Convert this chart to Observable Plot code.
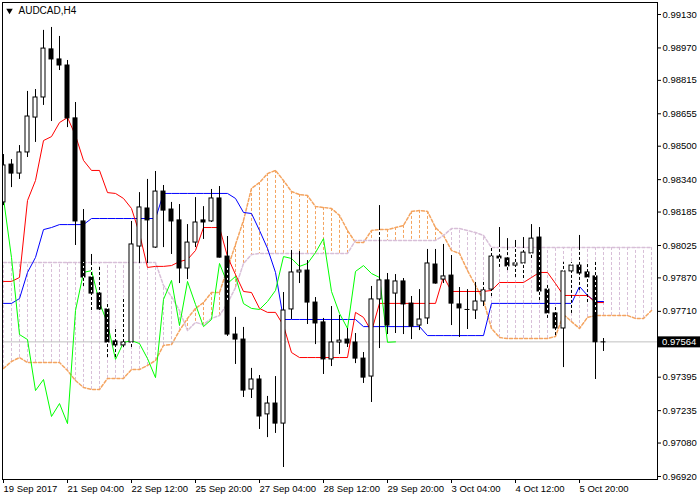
<!DOCTYPE html>
<html><head><meta charset="utf-8">
<script src="https://cdn.jsdelivr.net/npm/d3@7"></script>
<script src="https://cdn.jsdelivr.net/npm/@observablehq/plot@0.6"></script>
<style>
html,body{margin:0;padding:0;background:#fff;}
#chart svg{display:block;}
</style>
</head><body><div id="chart"></div>
<script>
const symbol = "AUDCAD,H4";
const current = 0.97564;
const chikouShift = 26;

const open = [0.98231,0.98412,0.98369,0.98470,0.98637,0.98733,0.98963,0.98915,0.98886,0.98633,
 0.98140,0.97872,0.97795,0.97719,0.97566,0.97547,0.97561,0.98020,0.98202,0.98015,
 0.98283,0.98197,0.98145,0.97915,0.98039,0.98145,0.98140,0.98250,0.97972,0.97599,
 0.97575,0.97336,0.97384,0.97217,0.97269,0.97173,0.97719,0.97896,0.97905,0.97752,
 0.97657,0.97480,0.97561,0.97575,0.97561,0.97484,0.97398,0.97767,0.97858,0.97795,
 0.97853,0.97747,0.97642,0.97676,0.97934,0.97862,0.97881,0.97743,0.97719,0.97714,
 0.97757,0.97814,0.97972,0.97963,0.97929,0.97939,0.97987,0.98063,0.97814,0.97700,
 0.97628,0.97901,0.97929,0.97896,0.97877,0.97564];
const high = [0.98460,0.98436,0.98503,0.98762,0.98771,0.99054,0.99068,0.99025,0.98910,0.98709,
 0.98197,0.97982,0.97920,0.97752,0.97628,0.97776,0.98140,0.98278,0.98341,0.98379,
 0.98312,0.98231,0.98221,0.98125,0.98254,0.98211,0.98293,0.98307,0.98068,0.97681,
 0.97633,0.97437,0.97403,0.97303,0.97398,0.97800,0.98011,0.97996,0.97953,0.97776,
 0.97676,0.97733,0.97690,0.97628,0.97604,0.97513,0.97829,0.98216,0.97891,0.97886,
 0.97867,0.97781,0.97814,0.98006,0.98006,0.98030,0.97977,0.97824,0.97814,0.97853,
 0.97858,0.98015,0.98111,0.98058,0.98049,0.98063,0.98125,0.98111,0.97834,0.97728,
 0.97944,0.97944,0.98073,0.97944,0.97944,0.97580];
const low = [0.98216,0.98302,0.98341,0.98446,0.98518,0.98695,0.98618,0.98862,0.98589,0.98025,
 0.97829,0.97714,0.97714,0.97489,0.97489,0.97537,0.97537,0.97939,0.97939,0.98011,
 0.98015,0.97982,0.97843,0.97862,0.98015,0.98054,0.98135,0.97965,0.97590,0.97456,
 0.97298,0.97293,0.97145,0.97106,0.97126,0.96963,0.97671,0.97843,0.97647,0.97551,
 0.97408,0.97446,0.97504,0.97537,0.97460,0.97365,0.97274,0.97532,0.97599,0.97604,
 0.97599,0.97575,0.97618,0.97647,0.97840,0.97843,0.97642,0.97585,0.97623,0.97671,
 0.97733,0.97781,0.97920,0.97905,0.97872,0.97867,0.97963,0.97762,0.97676,0.97594,
 0.97441,0.97700,0.97810,0.97752,0.97384,0.97518];
const close = [0.98408,0.98369,0.98470,0.98642,0.98733,0.98967,0.98915,0.98886,0.98633,0.98140,
 0.97872,0.97795,0.97719,0.97561,0.97547,0.97561,0.98030,0.98207,0.98145,0.98283,
 0.98192,0.98140,0.97915,0.98039,0.98135,0.98135,0.98250,0.97967,0.97599,0.97575,
 0.97331,0.97384,0.97207,0.97269,0.97173,0.97714,0.97896,0.97905,0.97752,0.97652,
 0.97480,0.97561,0.97570,0.97556,0.97484,0.97393,0.97767,0.97858,0.97642,0.97853,
 0.97743,0.97637,0.97671,0.97939,0.97843,0.97877,0.97747,0.97724,0.97719,0.97757,
 0.97810,0.97972,0.97963,0.97925,0.97939,0.97991,0.98058,0.97805,0.97700,0.97628,
 0.97901,0.97929,0.97891,0.97872,0.97562,0.97564];

const tenkan = [0.97853,0.97853,0.97872,0.98240,0.98336,0.98527,0.98546,0.98613,0.98637,0.98551,
 0.98432,0.98384,0.98384,0.98278,0.98274,0.98250,0.98202,0.98082,0.97920,0.97925,
 0.97925,0.97929,0.97948,0.97958,0.98001,0.98111,0.98111,0.98111,0.97972,0.97886,
 0.97805,0.97800,0.97724,0.97705,0.97705,0.97642,0.97513,0.97489,0.97489,0.97489,
 0.97489,0.97489,0.97489,0.97489,0.97705,0.97681,0.97614,0.97748,0.97748,0.97748,
 0.97748,0.97748,0.97748,0.97748,0.97748,0.97877,0.97805,0.97805,0.97805,0.97805,
 0.97805,0.97810,0.97848,0.97848,0.97848,0.97848,0.97872,0.97896,0.97896,0.97843,
 0.97786,0.97786,0.97786,0.97786,0.97752,0.97752];
const kijun = [0.97748,0.97748,0.97771,0.97896,0.97968,0.98101,0.98111,0.98125,0.98125,0.98125,
 0.98125,0.98154,0.98154,0.98154,0.98154,0.98154,0.98154,0.98154,0.98154,0.98154,
 0.98274,0.98274,0.98274,0.98274,0.98274,0.98274,0.98274,0.98274,0.98274,0.98250,
 0.98183,0.98178,0.98097,0.98011,0.97896,0.97671,0.97671,0.97671,0.97671,0.97671,
 0.97671,0.97671,0.97671,0.97671,0.97671,0.97637,0.97637,0.97637,0.97637,0.97637,
 0.97637,0.97637,0.97637,0.97594,0.97594,0.97594,0.97594,0.97594,0.97594,0.97594,
 0.97594,0.97748,0.97748,0.97748,0.97748,0.97748,0.97748,0.97748,0.97748,0.97748,
 0.97748,0.97748,0.97829,0.97786,0.97757,0.97757];
const spanA = [0.97437,0.97470,0.97489,0.97465,0.97465,0.97465,0.97465,0.97465,0.97427,0.97379,
 0.97346,0.97336,0.97336,0.97389,0.97389,0.97389,0.97432,0.97432,0.97451,0.97475,
 0.97547,0.97551,0.97618,0.97676,0.97724,0.97752,0.97800,0.97800,0.97915,0.98030,
 0.98145,0.98298,0.98326,0.98369,0.98384,0.98336,0.98283,0.98269,0.98264,0.98211,
 0.98207,0.98202,0.98169,0.98097,0.98039,0.98039,0.98097,0.98101,0.98101,0.98111,
 0.98121,0.98188,0.98192,0.98188,0.98111,0.98073,0.98001,0.97987,0.97905,0.97834,
 0.97762,0.97628,0.97585,0.97580,0.97580,0.97580,0.97580,0.97580,0.97580,0.97590,
 0.97695,0.97661,0.97628,0.97681,0.97690,0.97690,0.97690,0.97690,0.97690,0.97676,
 0.97676,0.97714];
const spanB = [0.97944,0.97944,0.97944,0.97944,0.97944,0.97944,0.97944,0.97944,0.97944,0.97944,
 0.97944,0.97944,0.97944,0.97944,0.97944,0.97944,0.97944,0.97944,0.97944,0.97944,
 0.97834,0.97781,0.97714,0.97618,0.97657,0.97647,0.97676,0.97690,0.97748,0.97824,
 0.97939,0.97982,0.97987,0.97987,0.97987,0.97987,0.97987,0.97987,0.97987,0.97987,
 0.97987,0.97987,0.97987,0.97987,0.98049,0.98049,0.98049,0.98049,0.98049,0.98049,
 0.98049,0.98049,0.98049,0.98049,0.98049,0.98073,0.98106,0.98106,0.98097,0.98087,
 0.98073,0.98015,0.98015,0.98015,0.98015,0.98015,0.98015,0.98015,0.98015,0.98015,
 0.98015,0.98015,0.98015,0.98015,0.98015,0.98015,0.98015,0.98015,0.98015,0.98015,
 0.98015,0.98015];

const timeTicks = [0,8,16,24,32,40,48,56,64,72];
const timeLabels = ["19 Sep 2017","21 Sep 04:00","22 Sep 12:00","25 Sep 20:00","27 Sep 04:00",
 "28 Sep 12:00","29 Sep 20:00","3 Oct 04:00","4 Oct 12:00","5 Oct 20:00"];
const priceTicks = [0.99130,0.98970,0.98815,0.98655,0.98500,0.98340,0.98185,0.98025,
 0.97870,0.97710,0.97395,0.97235,0.97080,0.96920];

// tables built from the arrays
const bars = open.map((o, i) => ({i, o, h: high[i], l: low[i], c: close[i]}));
const cloud = spanA.map((a, i) => ({i, a, b: spanB[i]}));
const chikou = close.slice(chikouShift).map((c, i) => ({i, c}));
const bull = bars.filter(d => d.c > d.o);
const bear = bars.filter(d => d.c < d.o);
const doji = bars.filter(d => d.c === d.o);
const inCloud = bars.map(d => {
  const lo = Math.max(d.l, Math.min(spanA[d.i], spanB[d.i]));
  const hi = Math.min(d.h, Math.max(spanA[d.i], spanB[d.i]));
  return {i: d.i, lo, hi};
}).filter(d => d.hi > d.lo);

const SANDY = "#f4a460", THISTLE = "#d8bfd8";
const W = 0.25;

const chart = Plot.plot({
  width: 700, height: 500,
  marginLeft: 2, marginRight: 43, marginTop: 2, marginBottom: 21,
  style: {fontFamily: "'Liberation Sans', Arial, sans-serif", fontSize: "9.5px", color: "black", background: "white"},
  x: {domain: [-0.125, 81.75], axis: null},
  y: {domain: [0.969056, 0.991874], axis: null},
  marks: [
    Plot.ruleX(cloud.filter(d => d.a >= d.b), {x: "i", y1: "a", y2: "b", stroke: SANDY, strokeDasharray: "3,2", clip: true}),
    Plot.ruleX(cloud.filter(d => d.a < d.b), {x: "i", y1: "a", y2: "b", stroke: THISTLE, strokeDasharray: "3,2", clip: true}),
    Plot.line(cloud, {x: "i", y: "a", stroke: SANDY, strokeDasharray: "3,2", clip: true}),
    Plot.line(cloud, {x: "i", y: "b", stroke: THISTLE, strokeDasharray: "3,2", clip: true}),
    Plot.ruleY([current], {stroke: "#c0c0c0"}),
    Plot.line(bars, {x: "i", y: d => kijun[d.i], stroke: "#0000ff", strokeWidth: 1, clip: true}),
    Plot.line(bars, {x: "i", y: d => tenkan[d.i], stroke: "#ff0000", strokeWidth: 1, clip: true}),
    Plot.line(chikou, {x: "i", y: "c", stroke: "#00ff00", strokeWidth: 1, clip: true}),
    Plot.ruleX(bars, {x: "i", y1: "l", y2: "h", stroke: "black", clip: true}),
    Plot.rect(bear, {x1: d => d.i - W, x2: d => d.i + W, y1: "o", y2: "c", fill: "black", stroke: "black", clip: true}),
    Plot.rect(bull, {x1: d => d.i - W, x2: d => d.i + W, y1: "o", y2: "c", fill: "white", stroke: "black", clip: true}),
    Plot.ruleY(doji, {y: "c", x1: d => d.i - W - 0.06, x2: d => d.i + W + 0.06, stroke: "black", clip: true}),
    Plot.ruleX(inCloud, {x: "i", y1: "lo", y2: "hi", stroke: "white", strokeDasharray: "0,3,2,0", clip: true}),
    Plot.frame({stroke: "black"}),
    Plot.axisY(priceTicks, {anchor: "right", tickSize: 3, tickPadding: 2, tickFormat: d => d.toFixed(5), label: null}),
    Plot.axisX(timeTicks, {anchor: "bottom", tickSize: 4, tickPadding: 2, tickFormat: (d, k) => timeLabels[k], textAnchor: "start", dx: 0, label: null}),
    Plot.dot([0], {frameAnchor: "top-left", dx: 7, dy: 8, symbol: "triangle", r: 2.4, fill: "black", rotate: 180}),
    Plot.text([symbol], {frameAnchor: "top-left", dx: 16, dy: 4, lineAnchor: "top", textAnchor: "start", fontSize: 10, fill: "black"})
  ]
});

// current price marker on the price axis
const yc = chart.scale("y").apply(current);
const svg = d3.select(chart);
svg.append("rect").attr("x", 658).attr("y", yc - 5).attr("width", 42).attr("height", 11).attr("fill", "black");
svg.append("text").attr("x", 662).attr("y", yc + 0.5).attr("dy", "0.35em")
  .attr("text-anchor", "start").attr("fill", "white").attr("font-size", "9.5px").text(current.toFixed(5));

document.getElementById("chart").append(chart);
</script>
</body></html>
